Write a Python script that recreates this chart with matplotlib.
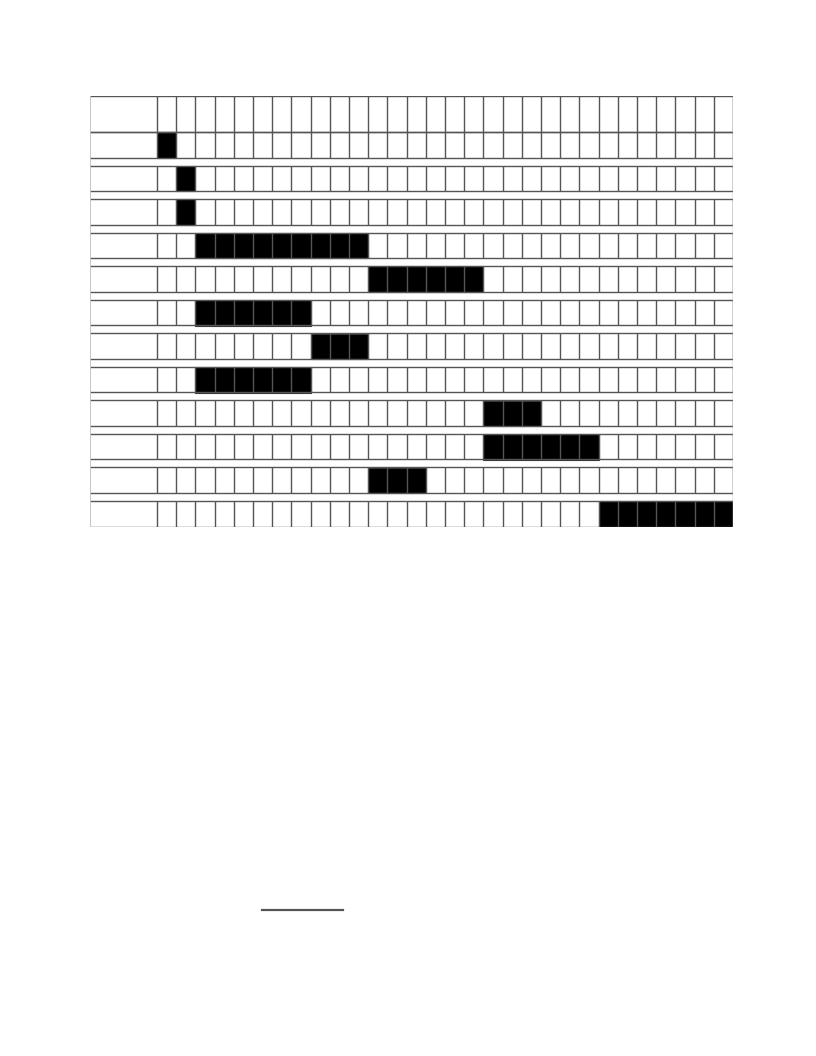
import matplotlib
matplotlib.use("Agg")
import matplotlib.pyplot as plt
from matplotlib.lines import Line2D

# ---- data: one row per task, start column and duration (in period units)
tasks = ["", "", "", "", "", "", "", "", "", "", "", ""]
starts = [0, 1, 1, 2, 11, 2, 8, 2, 17, 17, 11, 23]
durations = [1, 1, 1, 9, 6, 6, 3, 6, 3, 6, 3, 7]
n_periods = 30
period_labels = [""] * n_periods

# ---- layout (pixels)
W, H = 816, 1056
left_px, right_px = 90, 733
label_px = 67
top_px = 96
header_h = 36.5
row_h = 25.5
gap_h = 8.0
line_col = "#555555"

fig = plt.figure(figsize=(W / 100, H / 100), dpi=100)
n_rows = len(tasks)
bottom_px = top_px + header_h + n_rows * row_h + (n_rows - 1) * gap_h
ax = fig.add_axes([left_px / W, 1 - bottom_px / H,
                   (right_px - left_px) / W, (bottom_px - top_px) / H])
col_w = (right_px - left_px - label_px) / n_periods
x0 = -label_px / col_w
ax.set_xlim(x0, n_periods)
ax.set_ylim(bottom_px - top_px, 0)
ax.axis("off")

# header row
ax.hlines([0, header_h], x0, n_periods, color=line_col, lw=1)
ax.vlines(range(0, n_periods + 1), 0, header_h, color=line_col, lw=1)
for i, lab in enumerate(period_labels):
    ax.text(i + 0.5, header_h / 2, lab, ha="center", va="center", fontsize=7)

y = header_h
for r, (name, s, d) in enumerate(zip(tasks, starts, durations)):
    if r > 0:
        y += gap_h
    ax.barh(y + row_h / 2, d, left=s, height=row_h, color="black",
            edgecolor="#333333", linewidth=0.8, zorder=1)
    ax.hlines([y, y + row_h], x0, n_periods, color=line_col, lw=1, zorder=2)
    ax.vlines(range(0, n_periods + 1), y, y + row_h, color=line_col, lw=1, zorder=2)
    ax.text(x0 + 0.3, y + row_h / 2, name, ha="left", va="center", fontsize=8)
    y += row_h

# outer left/right borders
ax.vlines([x0], 0, bottom_px - top_px, color="#bbbbbb", lw=1.2, zorder=3)
ax.vlines([n_periods], 0, bottom_px - top_px, color="#999999", lw=1, zorder=3)

# signature line
fig.add_artist(Line2D([262 / W, 343 / W], [1 - 910 / H, 1 - 910 / H],
                      color="#555555", lw=1.6))

fig.savefig("out.png", dpi=100)
